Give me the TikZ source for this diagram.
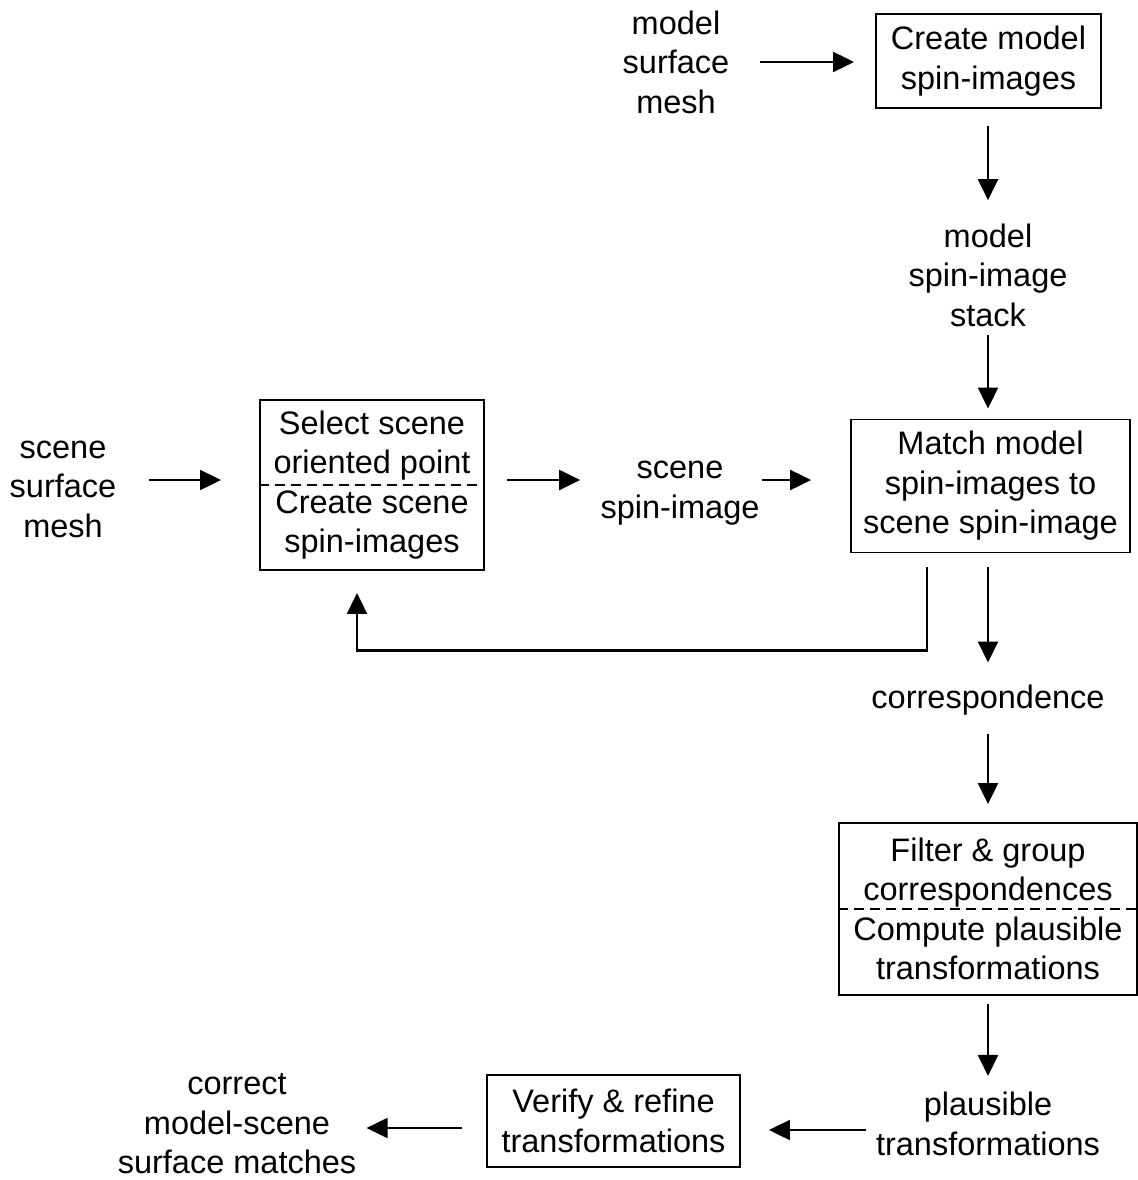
\documentclass[tikz,border=0pt]{standalone}
\usepackage{fontspec}
\setmainfont{Liberation Sans}
\usetikzlibrary{arrows.meta, positioning, calc}

\begin{document}
\begin{tikzpicture}[
                x=0.02cm, y=-0.02cm,
                font=\fontsize{18.5}{22.5}\selectfont,
                box/.style={draw, line width=1.1pt, align=center, inner sep=0pt},
                txt/.style={align=center, inner sep=0pt},
                split/.style={line width=0.9pt, dash pattern=on 0.19cm off 0.13cm},
                flow/.style={line width=1.2pt, -{Triangle[length=0.42cm, width=0.4cm]}},
            ]
                \useasboundingbox (0,0) rectangle (1138,1180);

                % Boxes
                \node[box, minimum width=4.5cm, minimum height=1.88cm] (create) at (988.5,61) {Create model\\spin-images};
                \node[box, minimum width=5.58cm, minimum height=2.66cm] (match) at (990.5,486) {Match model\\spin-images to\\scene spin-image};
                \node[box, minimum width=4.48cm, minimum height=3.4cm] (select) at (372,485) {Select scene\\oriented point\\Create scene\\spin-images};
                \node[box, minimum width=5.96cm, minimum height=3.44cm] (filter) at (988,909) {Filter \& group\\correspondences\\Compute plausible\\transformations};
                \node[box, minimum width=5.06cm, minimum height=1.84cm] (verify) at (613.5,1121) {Verify \& refine\\transformations};

                % Split lines inside the two-step boxes
                \draw[split] (select.west) -- (select.east);
                \draw[split] (filter.west) -- (filter.east);

                % Data between the steps
                \node[txt] (modelmesh) at (676,62) {model\\surface\\mesh};
                \node[txt] (stack) at (988,275) {model\\spin-image\\stack};
                \node[txt] (scenemesh) at (63,489) {scene\\surface\\mesh};
                \node[txt] (scenespin) at (680,493) {scene\\spin-image};
                \node[txt] (corr) at (988,700) {correspondence};
                \node[txt] (plaus) at (988,1124) {plausible\\transformations};
                \node[txt] (result) at (237,1124) {correct\\model-scene\\surface matches};

                % Model side
                \draw[flow, shorten <=0.6cm, shorten >=0.42cm] (modelmesh.east) -- (create.west |- modelmesh.east);
                \draw[flow, shorten <=0.34cm, shorten >=0.46cm] (create.south -| stack.north) -- (stack.north);
                \draw[flow, shorten <=0.16cm, shorten >=0.2cm] (stack.south) -- (stack.south |- match.north);

                % Scene side
                \draw[flow, shorten <=0.64cm, shorten >=0.76cm] ([yshift=0.18cm]scenemesh.east) -- ([yshift=0.18cm]scenemesh.east -| select.west);
                \draw[flow, shorten <=0.44cm, shorten >=0.4cm] ([yshift=0.1cm]select.east) -- ([yshift=0.1cm]select.east -| scenespin.west);
                \draw[flow, shorten <=0.04cm, shorten >=0.78cm] ([yshift=0.26cm]scenespin.east) -- ([yshift=0.26cm]scenespin.east -| match.west);

                % Loop back for the next scene point
                \draw[flow, shorten <=0.28cm, shorten >=0.44cm] ([xshift=-1.27cm]match.south) -- ++(0,97) -| ([xshift=-0.3cm]select.south);

                % Down to the result
                \draw[flow, shorten <=0.28cm, shorten >=0.44cm] (match.south -| corr.north) -- (corr.north);
                \draw[flow, shorten <=0.36cm, shorten >=0.36cm] (corr.south) -- (filter.north);
                \draw[flow, shorten <=0.16cm, shorten >=0.32cm] (filter.south) -- (plaus.north);
                \draw[flow, shorten <=0.2cm, shorten >=0.56cm] ([yshift=-0.12cm]plaus.west) -- ([yshift=-0.12cm]plaus.west -| verify.east);
                \draw[flow, shorten <=0.48cm, shorten >=0.2cm] ([yshift=-0.14cm]verify.west) -- ([yshift=-0.14cm]verify.west -| result.east);
            \end{tikzpicture}
\end{document}
